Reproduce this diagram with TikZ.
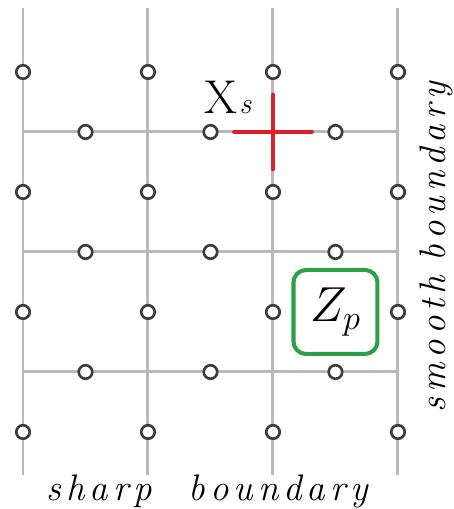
\documentclass[tikz,border=0pt]{standalone}
\usepackage{fix-cm}
\usepackage{fontspec}
\usepackage{xcolor}
\usetikzlibrary{positioning}

\definecolor{meshgray}{RGB}{188,184,184}
\definecolor{ringgray}{RGB}{60,60,60}
\definecolor{crossred}{RGB}{218,32,45}
\definecolor{boxgreen}{RGB}{45,160,70}

% letter-spaced word
\makeatletter
\newcommand\spreadword[2]{\@tfor\lt:=#2\do{\lt\hspace{#1}}\unskip}
\makeatother

\tikzset{
  vert/.style={circle, draw=ringgray, fill=white, line width=1.5pt,
    minimum size=0.27cm, inner sep=0pt},
  meshline/.style={meshgray, line width=1.7pt},
  crossline/.style={crossred, line width=2.5pt, line cap=round},
  bndtext/.style={font=\itshape\fontsize{21}{24}\selectfont, inner sep=0pt},
}

\begin{document}
\begin{tikzpicture}[x=2.5cm,y=2.4cm]
  \useasboundingbox (-0.184,-0.642) rectangle (3.448,3.6);

  % mesh lines
  \foreach \i in {0,...,3}
    \draw[meshline] (\i,-0.36) -- (\i,3.53);
  \foreach \j in {0.5,1.5,2.5}
    \draw[meshline] (0,\j) -- (3,\j);

  % vertices on the vertical lines
  \foreach \i in {0,...,3}
    \foreach \j in {0,...,3}
      \node[vert] (v\i\j) at (\i,\j) {};

  % vertices on the horizontal lines
  \foreach \i in {0,1,2}
    \foreach \j in {0,1,2}
      \node[vert] (h\i\j) at (\i+0.5,\j+0.5) {};

  % cross at X_s
  \coordinate (xs) at (2,2.5);
  \draw[crossline] (xs) ++(-0.31,0) -- ++(0.62,0);
  \draw[crossline] (xs) ++(0,-0.31) -- ++(0,0.62);
  \node (xslabel) at (1.64,2.79)
    {\fontsize{27}{30}\selectfont X\kern1pt{\fontsize{17}{17}\selectfont\itshape s}};

  % Z_p box
  \node[draw=boxgreen, line width=2.3pt, rounded corners=0.25cm,
    minimum size=1.68cm, fill=white] (zp) at (2.5,1)
    {\fontsize{28}{32}\selectfont$Z_p$};

  % boundary labels
  \node[bndtext, anchor=base] (sharp) at (1.476,-0.567)
    {\spreadword{0.135em}{sharp}\hspace{1em}\spreadword{0.135em}{boundary}};
  \node[bndtext, anchor=base, rotate=90] (smooth) at (3.38,1.54)
    {\spreadword{0.135em}{smooth}\hspace{0.4em}\spreadword{0.135em}{boundary}};
\end{tikzpicture}
\end{document}
